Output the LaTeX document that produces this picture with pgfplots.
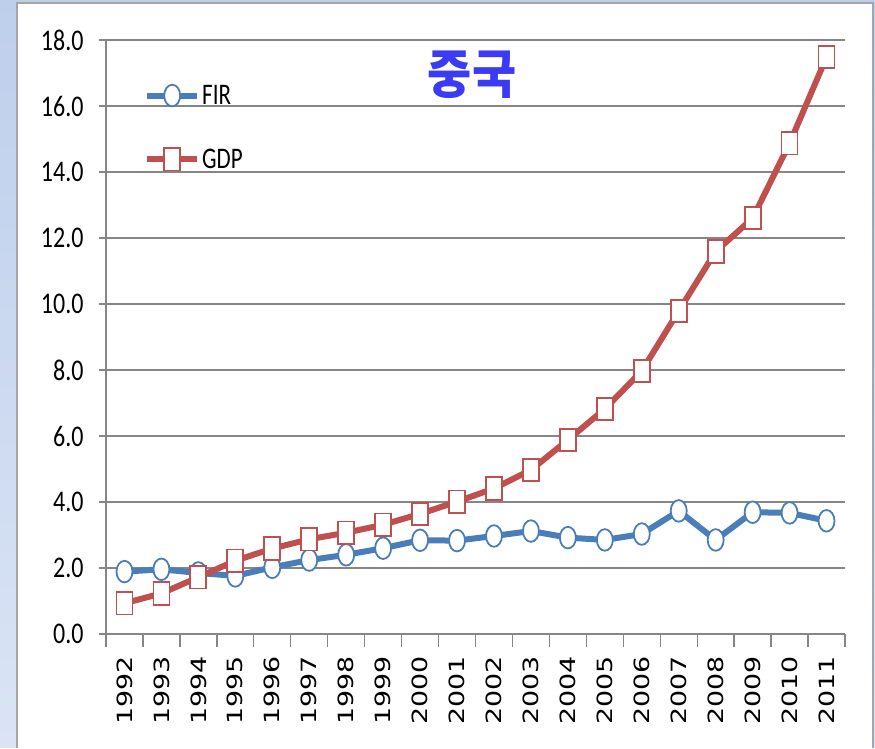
\documentclass[border=0pt]{standalone}
\usepackage{pgfplots}
\pgfplotsset{compat=1.18}
\usepackage{fontspec}
\setmainfont{Carlito}
\newfontfamily\dejavu{DejaVu Sans}
\newfontfamily\kr{Noto Sans CJK KR}
\definecolor{firblue}{HTML}{4A7EBB}
\definecolor{gdpred}{HTML}{C0504D}
\definecolor{gridgray}{HTML}{868686}
\definecolor{titleblue}{HTML}{3B3BF5}
\pgfplotstableread{
year FIR GDP
1992 1.89 0.93
1993 1.96 1.23
1994 1.85 1.72
1995 1.76 2.22
1996 2.02 2.59
1997 2.24 2.87
1998 2.40 3.07
1999 2.60 3.31
2000 2.84 3.64
2001 2.83 4.01
2002 2.97 4.41
2003 3.12 4.97
2004 2.92 5.88
2005 2.85 6.82
2006 3.03 7.97
2007 3.73 9.79
2008 2.85 11.59
2009 3.69 12.60
2010 3.67 14.87
2011 3.43 17.48
}\datatable
\begin{document}
\begin{tikzpicture}[x=1pt,y=1pt]
\shade[top color={rgb,255:red,190;green,207;blue,236}, bottom color={rgb,255:red,218;green,228;blue,245}] (0pt,0pt) rectangle (875pt,748pt);
\fill[white] (17pt,0pt) rectangle (873pt,745pt);
\draw[gray!70, line width=1.2pt] (17pt,0pt) -- (17pt,745pt) -- (873pt,745pt) -- (873pt,0pt);
\begin{axis}[
  at={(106pt,114pt)}, anchor=south west,
  scale only axis, width=739pt, height=594pt,
  xmin=1991.5, xmax=2011.5, ymin=0, ymax=18,
  xtick={1991.5,1992.5,...,2011.5},
  x tick label as interval,
  xticklabels={\scalebox{1.28}[1]{1992},\scalebox{1.28}[1]{1993},\scalebox{1.28}[1]{1994},\scalebox{1.28}[1]{1995},\scalebox{1.28}[1]{1996},\scalebox{1.28}[1]{1997},\scalebox{1.28}[1]{1998},\scalebox{1.28}[1]{1999},\scalebox{1.28}[1]{2000},\scalebox{1.28}[1]{2001},\scalebox{1.28}[1]{2002},\scalebox{1.28}[1]{2003},\scalebox{1.28}[1]{2004},\scalebox{1.28}[1]{2005},\scalebox{1.28}[1]{2006},\scalebox{1.28}[1]{2007},\scalebox{1.28}[1]{2008},\scalebox{1.28}[1]{2009},\scalebox{1.28}[1]{2010},\scalebox{1.28}[1]{2011}},
  xticklabel style={font=\dejavu\fontsize{21}{24}\selectfont, rotate=90, anchor=east},
  xticklabel shift=12pt,
  ytick={0,2,...,18},
  yticklabel style={font=\fontsize{24}{28}\selectfont, yscale=1.25},
  yticklabel={\pgfmathprintnumber[fixed,fixed zerofill,precision=1]{\tick}},
  yticklabel shift=12pt,
  /pgf/number format/assume math mode=true,
  ymajorgrids, grid style={gridgray, line width=1.6pt},
  axis line style={gridgray, line width=1.6pt},
  axis x line*=bottom, axis y line*=left,
  tick align=outside, major tick length=7pt,
  xtick style={/pgfplots/major tick length=13pt},
  tick style={gridgray, line width=1.4pt},
  clip=false,
  legend style={draw=none, fill=none, at={(38pt,551pt)}, anchor=north west,
     font=\fontsize{23}{26}\selectfont, row sep=39pt, inner sep=0pt},
  legend cell align=left,
  legend image code/.code={\draw[#1,mark=none] (0pt,0pt) -- (50pt,0pt);
    \draw[#1,only marks] plot coordinates {(25pt,0pt)};},
]
\addplot[firblue, line width=6pt, mark=*, mark size=8pt,
  mark options={fill=white, draw=firblue, line width=1.8pt, yscale=1.35}] table[x=year,y=FIR] {\datatable};
\addlegendentry{\scalebox{1}[1.3]{FIR}}
\addplot[gdpred, line width=6pt, mark=square*, mark size=8pt,
  mark options={fill=white, draw=gdpred, line width=1.8pt, yscale=1.4}] table[x=year,y=GDP] {\datatable};
\addlegendentry{\scalebox{1}[1.3]{GDP}}
\end{axis}
\node[text=titleblue, font=\kr\bfseries\fontsize{48}{52}\selectfont, yscale=1.1] at (472pt,673pt) {중국};
\end{tikzpicture}
\end{document}
